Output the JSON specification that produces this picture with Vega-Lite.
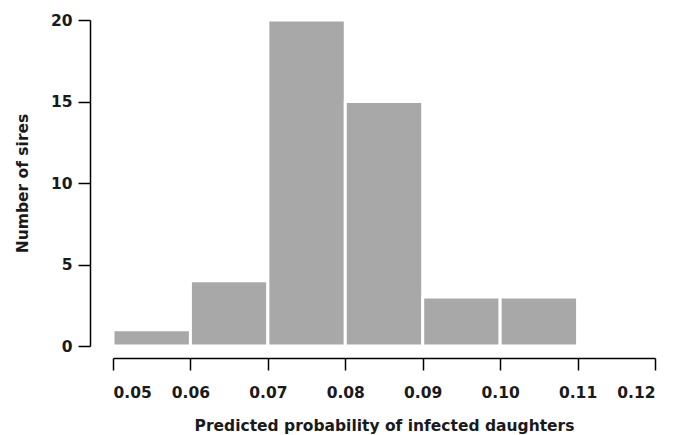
{
  "$schema": "https://vega.github.io/schema/vega-lite/v6.json",
  "autosize": "none",
  "width": 542,
  "height": 326,
  "padding": {"left": 113, "top": 20, "right": 20, "bottom": 89},
  "background": "white",
  "config": {"view": {"stroke": null}, "font": "DejaVu Sans"},
  "data": {"values": [
    {"start": 0.05, "end": 0.06, "count": 1},
    {"start": 0.06, "end": 0.07, "count": 4},
    {"start": 0.07, "end": 0.08, "count": 20},
    {"start": 0.08, "end": 0.09, "count": 15},
    {"start": 0.09, "end": 0.10, "count": 3},
    {"start": 0.10, "end": 0.11, "count": 3}
  ]},
  "mark": {"type": "rect", "fill": "#a8a8a8", "stroke": "white", "strokeWidth": 3},
  "encoding": {
    "x": {"field": "start", "type": "quantitative",
      "scale": {"domain": [0.05, 0.12], "nice": false, "zero": false},
      "axis": {"title": "Predicted probability of infected daughters", "values": [0.05,0.06,0.07,0.08,0.09,0.10,0.11,0.12],
        "format": ".2f", "grid": false, "offset": 12, "domainColor": "black", "domainWidth": 1.5, "tickColor": "black", "tickWidth": 1.5, "tickSize": 12,
        "labelFont": "DejaVu Sans", "labelFontWeight": "bold", "labelFontSize": 15.5, "labelColor": "#1a1a1a", "labelPadding": 15,
        "titleFont": "DejaVu Sans", "titleFontWeight": "bold", "titleFontSize": 15.5, "titleColor": "#1a1a1a", "titlePadding": 18}},
    "x2": {"field": "end"},
    "y": {"field": "count", "type": "quantitative",
      "scale": {"domain": [0, 20], "nice": false},
      "axis": {"title": "Number of sires", "values": [0,5,10,15,20], "grid": false, "offset": 23,
        "domainColor": "black", "domainWidth": 1.5, "tickColor": "black", "tickWidth": 1.5, "tickSize": 12,
        "labelFont": "DejaVu Sans", "labelFontWeight": "bold", "labelFontSize": 15.5, "labelColor": "#1a1a1a", "labelPadding": 6,
        "titleFont": "DejaVu Sans", "titleFontWeight": "bold", "titleFontSize": 15.5, "titleColor": "#1a1a1a", "titlePadding": 20}},
    "y2": {"datum": 0}
  }
}
